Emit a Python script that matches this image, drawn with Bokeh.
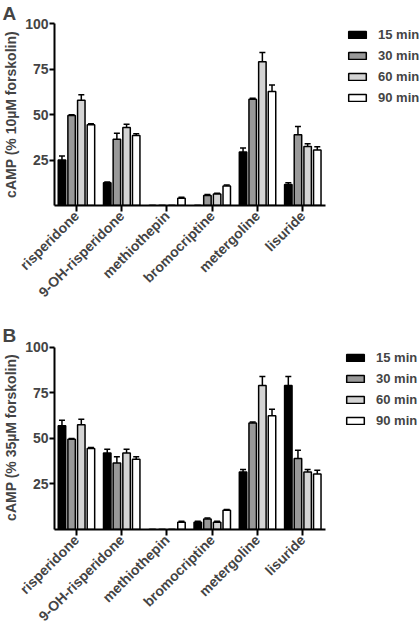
import math
from bokeh.plotting import figure
from bokeh.models import (ColumnDataSource, Range1d, FixedTicker, Whisker, TeeHead,
                          Legend, LegendItem)
from bokeh.layouts import column
from bokeh.embed import file_html
from bokeh.resources import INLINE

categories = ["risperidone", "9-OH-risperidone", "methiothepin", "bromocriptine", "metergoline", "lisuride"]
series = ["15 min", "30 min", "60 min", "90 min"]
colors = ["#000000", "#999999", "#d4d4d4", "#ffffff"]

# Panel A: cAMP (% 10 uM forskolin)
a_15 = [25, 12.5, 0, 0, 29.5, 11.5]
a_15_err = [2.2, 0.5, 0, 0, 2.2, 1]
a_30 = [49.5, 36.5, 0, 5.5, 58.5, 39]
a_30_err = [0.5, 3.3, 0, 0.5, 0.5, 4.5]
a_60 = [58, 43, 0, 6.3, 79.2, 32.5]
a_60_err = [3, 1.7, 0, 0.5, 5, 1.5]
a_90 = [44.5, 38.5, 4, 10.8, 62.8, 30.5]
a_90_err = [0.5, 1, 0.5, 0.5, 3.5, 1.8]

# Panel B: cAMP (% 35 uM forskolin)
b_15 = [57, 42, 0, 4, 31.5, 79]
b_15_err = [3, 2, 0, 0.5, 1.5, 5]
b_30 = [49.5, 36.5, 0, 5.8, 58.5, 39]
b_30_err = [0.5, 3.5, 0, 0.5, 0.5, 4.5]
b_60 = [57.5, 42, 0, 4, 79, 31.5]
b_60_err = [3, 2, 0, 0.5, 5, 1.5]
b_90 = [44.5, 38.5, 4, 10.5, 62.5, 30.5]
b_90_err = [0.5, 1.5, 0.5, 0.5, 3.5, 2]

FONT = "Liberation Sans"
offsets = [-0.32, -0.107, 0.107, 0.32]
BAR_W = 0.165


def make_panel(letter, ylabel, vals, errs, height, y_end, bottom, legend_loc):
    p = figure(width=420, height=height, output_backend="svg", toolbar_location=None,
               x_range=Range1d(-0.485, 7.6), y_range=Range1d(0, y_end),
               min_border_left=53, min_border_right=0, min_border_top=0,
               min_border_bottom=bottom, title=letter)
    p.title.text_font = FONT
    p.title.text_font_size = "19px"
    p.title.text_font_style = "bold"
    p.title.align = "left"
    p.title.offset = -52
    p.title.standoff = 0
    p.outline_line_color = None
    p.xgrid.grid_line_color = None
    p.ygrid.grid_line_color = None
    p.background_fill_color = None
    p.border_fill_color = None

    idx = list(range(len(categories)))
    items = []
    for s, (name, col, off) in enumerate(zip(series, colors, offsets)):
        v = vals[s]
        e = errs[s]
        src = ColumnDataSource(dict(
            x=[i + off for i in idx], top=v, upper=[a + b for a, b in zip(v, e)]))
        r = p.vbar(x="x", top="top", width=BAR_W, bottom=0, source=src,
                   fill_color=col, line_color="black", line_width=1.5)
        w = Whisker(base="x", lower="top", upper="upper", source=src,
                    line_color="black", line_width=1.5, lower_head=None,
                    upper_head=TeeHead(size=6, line_color="black", line_width=1.5))
        p.add_layout(w)
        items.append(LegendItem(label=name, renderers=[r]))

    legend = Legend(items=items, location=legend_loc, glyph_width=22, glyph_height=9,
                    label_text_font=FONT, label_text_font_size="13px",
                    label_text_font_style="bold", label_standoff=10, spacing=5,
                    label_height=16, padding=0, margin=0, border_line_color=None,
                    background_fill_alpha=0)
    p.add_layout(legend)

    xa = p.xaxis[0]
    xa.ticker = FixedTicker(ticks=idx)
    xa.major_label_overrides = {i: c for i, c in enumerate(categories)}
    xa.major_label_orientation = math.pi / 4
    xa.bounds = (-0.485, 5.5)
    xa.minor_tick_line_color = None
    xa.major_tick_in = 0
    xa.major_tick_out = 6
    xa.axis_line_width = 2
    xa.major_tick_line_width = 2
    xa.major_label_text_font = FONT
    xa.major_label_text_font_size = "14px"
    xa.major_label_text_font_style = "bold"
    xa.major_label_standoff = 2

    ya = p.yaxis[0]
    ya.ticker = FixedTicker(ticks=[25, 50, 75, 100])
    ya.bounds = (0, 100)
    ya.minor_tick_line_color = None
    ya.major_tick_in = 0
    ya.major_tick_out = 5
    ya.axis_line_width = 2
    ya.major_tick_line_width = 2
    ya.major_label_text_font = FONT
    ya.major_label_text_font_size = "14px"
    ya.major_label_text_font_style = "bold"
    ya.major_label_standoff = 1
    ya.axis_label = ylabel
    ya.axis_label_text_font = FONT
    ya.axis_label_text_font_size = "14px"
    ya.axis_label_text_font_style = "bold"
    ya.axis_label_standoff = 3
    return p


pA = make_panel("A", "cAMP (% 10µM forskolin)",
                [a_15, a_30, a_60, a_90], [a_15_err, a_30_err, a_60_err, a_90_err],
                322, 100.2, 117, (292, 100))
pB = make_panel("B", "cAMP (% 35µM forskolin)",
                [b_15, b_30, b_60, b_90], [b_15_err, b_30_err, b_60_err, b_90_err],
                310, 101.0, 101, (290, 101))

layout = column(pA, pB, spacing=0)
open("out.html", "w").write(file_html(layout, INLINE))
